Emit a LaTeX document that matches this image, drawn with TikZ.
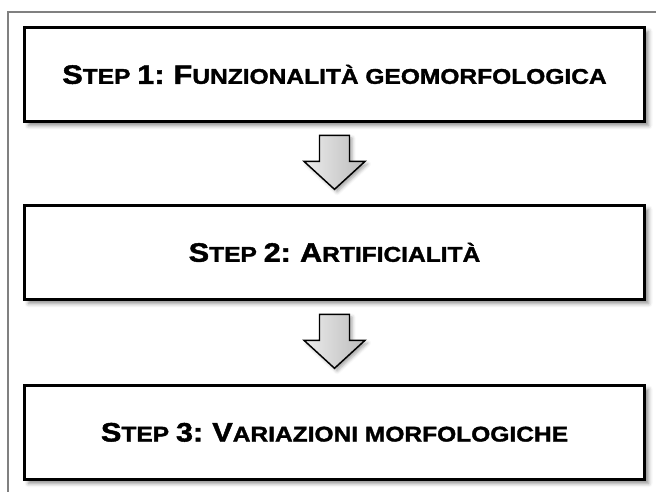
\documentclass[tikz,border=0pt]{standalone}
\usepackage{fontspec}
\setmainfont{Liberation Sans}
\newfontfamily\heavyfont[FakeStretch=1.15, FakeBold=1.6]{Liberation Sans Bold}
\usepackage{tikz}
\usetikzlibrary{shapes.arrows, positioning, calc, shadows.blur}
\definecolor{framegray}{RGB}{128,128,128}
\definecolor{arrowtop}{RGB}{236,236,236}
\definecolor{arrowbot}{RGB}{188,188,188}
\newcommand{\capbig}[1]{{\fontsize{20}{22}\selectfont #1}}
\newcommand{\capsmall}[1]{{\fontsize{16}{18}\selectfont #1}}

\begin{document}
\begin{tikzpicture}[
    x=0.75pt, y=0.75pt,
    stepbox/.style={rectangle, draw=black, line width=2.2pt, fill=white, inner sep=0pt, minimum width=465pt, minimum height=70.5pt, font=\heavyfont, blur shadow={shadow xshift=3pt, shadow yshift=-3pt, shadow blur radius=3pt, shadow opacity=45}},
    downarrow/.style={single arrow, draw=black, line width=1.1pt, rotate=-90, inner xsep=0pt, inner ysep=10.7pt, single arrow head extend=11.6pt, single arrow tip angle=95, minimum height=40.5pt, left color=arrowtop, right color=arrowbot, blur shadow={shadow xshift=2pt, shadow yshift=-2pt, shadow blur radius=2.5pt, shadow opacity=35}},
    frame/.style={draw=framegray, line width=1.2pt}
]
    \useasboundingbox (0,0) rectangle (656,492);
    \draw[frame] (8,0) -- (8,480) -- (656,480);

    \node[stepbox] (s1) at (334.5,417.5) {\capbig{S}\capsmall{TEP }\capbig{1:}\capsmall{ }\capbig{F}\capsmall{UNZIONALITÀ GEOMORFOLOGICA}};
    \node[stepbox, below=60.75pt of s1] (s2) {\capbig{S}\capsmall{TEP }\capbig{2:}\capsmall{ }\capbig{A}\capsmall{RTIFICIALITÀ}};
    \node[stepbox, below=62.25pt of s2] (s3) {\capbig{S}\capsmall{TEP }\capbig{3:}\capsmall{ }\capbig{V}\capsmall{ARIAZIONI MORFOLOGICHE}};

    \node[downarrow, xshift=-6pt] (a1) at ($(s1.south)!0.5!(s2.north)$) {};
    \node[downarrow, xshift=-6pt] (a2) at ($(s2.south)!0.5!(s3.north)$) {};
\end{tikzpicture}
\end{document}
